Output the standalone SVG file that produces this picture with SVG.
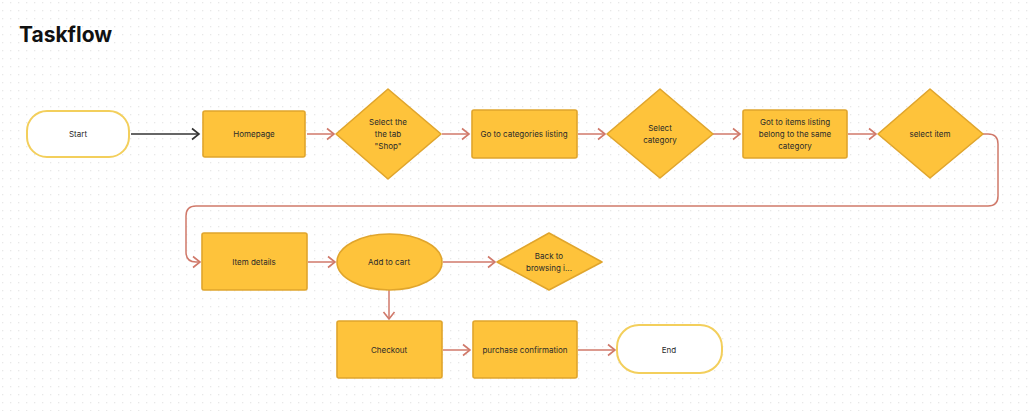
<svg xmlns="http://www.w3.org/2000/svg" width="1029" height="411" viewBox="0 0 1029 411">
<defs>
<pattern id="dots" x="2" y="2" width="8" height="8" patternUnits="userSpaceOnUse">
<rect x="0" y="0" width="1.3" height="1.3" fill="#e8e8e8"/>
</pattern>
<marker id="arr" markerWidth="12" markerHeight="14" refX="10" refY="7" orient="auto" markerUnits="userSpaceOnUse">
<path d="M3,1.5 L10,7 L3,12.5" fill="none" stroke="#d0796a" stroke-width="1.6"/>
</marker>
<marker id="arrk" markerWidth="12" markerHeight="14" refX="10" refY="7" orient="auto" markerUnits="userSpaceOnUse">
<path d="M3,1.5 L10,7 L3,12.5" fill="none" stroke="#333333" stroke-width="1.6"/>
</marker>
<style>
.box{fill:#fec33b;stroke:#e0a52c;stroke-width:1.6}
.term{fill:#ffffff;stroke:#f3cf5c;stroke-width:2}
.lbl{font-family:Inter,"Liberation Sans",sans-serif;font-size:8px;fill:#2a2a2a;text-anchor:middle}
.c{fill:none;stroke:#d0796a;stroke-width:1.5}
</style>
</defs>
<rect width="1029" height="411" fill="#ffffff"/>
<rect width="1029" height="411" fill="url(#dots)"/>
<text x="19" y="42" font-family="Inter,'Liberation Sans',sans-serif" font-size="21" font-weight="700" fill="#111111">Taskflow</text>

<g id="connectors">
<line x1="131" y1="134" x2="199" y2="134" stroke="#333333" stroke-width="1.6" marker-end="url(#arrk)"/>
<line class="c" x1="307" y1="134" x2="334" y2="134" marker-end="url(#arr)"/>
<line class="c" x1="442" y1="134" x2="469" y2="134" marker-end="url(#arr)"/>
<line class="c" x1="578" y1="134" x2="605" y2="134" marker-end="url(#arr)"/>
<line class="c" x1="713" y1="134" x2="740" y2="134" marker-end="url(#arr)"/>
<line class="c" x1="848" y1="134" x2="876" y2="134" marker-end="url(#arr)"/>
<path class="c" d="M983,134 L988,134 Q998,134 998,144 L998,196 Q998,206 988,206 L196,206 Q186,206 186,216 L186,252 Q186,262 196,262 L200,262" marker-end="url(#arr)"/>
<line class="c" x1="308" y1="262" x2="335" y2="262" marker-end="url(#arr)"/>
<line class="c" x1="443" y1="262" x2="495" y2="262" marker-end="url(#arr)"/>
<line class="c" x1="389" y1="290" x2="389" y2="319" marker-end="url(#arr)"/>
<line class="c" x1="443" y1="350" x2="470" y2="350" marker-end="url(#arr)"/>
<line class="c" x1="578" y1="350" x2="615" y2="350" marker-end="url(#arr)"/>
</g>

<g id="start"><rect class="term" x="27" y="111" width="102" height="46" rx="20"/><text class="lbl" x="78" y="137">Start</text></g>
<g id="homepage"><rect class="box" x="203" y="111" width="102" height="46" rx="2"/><text class="lbl" x="254" y="137">Homepage</text></g>
<g id="select-tab"><polygon class="box" points="388,89 441,134 388,179 336,134" stroke-linejoin="round"/><text class="lbl" x="388" y="125">Select the</text><text class="lbl" x="388" y="137">the tab</text><text class="lbl" x="388" y="149">"Shop"</text></g>
<g id="categories"><rect class="box" x="472" y="110" width="105" height="48" rx="2"/><text class="lbl" x="524" y="137">Go to categories listing</text></g>
<g id="select-category"><polygon class="box" points="660,89 713,134 660,178 607,134" stroke-linejoin="round"/><text class="lbl" x="660" y="131">Select</text><text class="lbl" x="660" y="143">category</text></g>
<g id="items-listing"><rect class="box" x="743" y="110" width="104" height="48" rx="2"/><text class="lbl" x="795" y="125">Got to items listing</text><text class="lbl" x="795" y="137">belong to the same</text><text class="lbl" x="795" y="149">category</text></g>
<g id="select-item"><polygon class="box" points="930,89 983,134 930,178 878,134" stroke-linejoin="round"/><text class="lbl" x="930" y="137">select item</text></g>
<g id="item-details"><rect class="box" x="202" y="233" width="105" height="57" rx="2"/><text class="lbl" x="254" y="265">Item details</text></g>
<g id="add-to-cart"><ellipse class="box" cx="389.5" cy="262" rx="52.5" ry="28"/><text class="lbl" x="389" y="265">Add to cart</text></g>
<g id="back-to-browsing"><polygon class="box" points="549,233 602,262 549,290 497,262" stroke-linejoin="round"/><text class="lbl" x="549" y="259">Back to</text><text class="lbl" x="549" y="271">browsing i...</text></g>
<g id="checkout"><rect class="box" x="337" y="321" width="105" height="57" rx="2"/><text class="lbl" x="389" y="353">Checkout</text></g>
<g id="purchase-confirmation"><rect class="box" x="473" y="321" width="104" height="57" rx="2"/><text class="lbl" x="525" y="353">purchase confirmation</text></g>
<g id="end"><rect class="term" x="617" y="325" width="105" height="48" rx="22"/><text class="lbl" x="669" y="353">End</text></g>
</svg>
